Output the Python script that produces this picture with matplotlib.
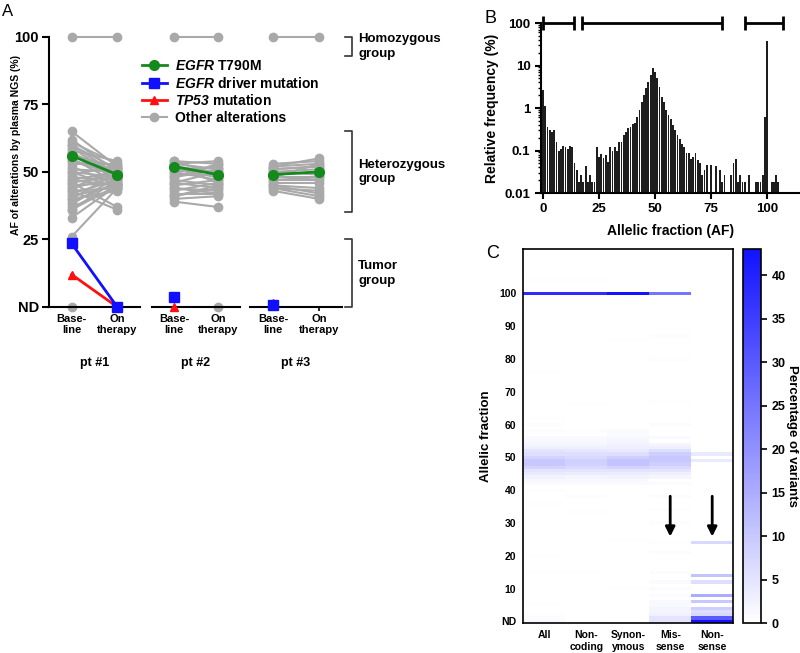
import numpy as np
import matplotlib
matplotlib.use('Agg')
import matplotlib.pyplot as plt
from matplotlib.colors import LinearSegmentedColormap

plt.rcParams['font.family'] = ['Liberation Sans', 'DejaVu Sans']
plt.rcParams['font.weight'] = 'bold'
plt.rcParams['axes.labelweight'] = 'bold'
plt.rcParams['mathtext.fontset'] = 'custom'
plt.rcParams['mathtext.it'] = 'Liberation Sans:italic:bold'
plt.rcParams['mathtext.rm'] = 'Liberation Sans:italic:bold'

# ---- panel A data ----
patients = ['pt #1', 'pt #2', 'pt #3']
timepoints = ['Base-\nline', 'On\ntherapy']

pt1_base = [65, 62, 61, 60, 60, 59, 58, 57, 57, 56, 55, 54, 54, 53, 52, 51, 50, 50, 49, 48,
            47, 47, 46, 45, 44, 44, 43, 42, 41, 40, 40, 39, 38, 37, 36, 36, 33, 26, 46, 43]
pt1_on = [52, 50, 53, 49, 51, 48, 54, 50, 47, 52, 46, 51, 49, 53, 45, 50, 48, 44, 52, 47,
          50, 45, 49, 46, 51, 48, 44, 47, 45, 50, 43, 46, 48, 44, 47, 45, 45, 44, 37, 36]
pt2_base = [54, 53, 53, 52, 51, 50, 50, 49, 48, 47, 46, 46, 45, 44, 43, 42, 41, 40, 39, 54, 52, 48, 44, 41]
pt2_on = [53, 51, 54, 50, 48, 52, 47, 49, 53, 45, 50, 44, 47, 43, 46, 42, 44, 41, 37, 49, 46, 51, 42, 45]
pt3_base = [53, 52, 52, 51, 50, 50, 49, 48, 48, 47, 46, 45, 45, 44, 43, 51, 47, 44]
pt3_on = [54, 53, 55, 52, 51, 49, 50, 53, 48, 47, 46, 44, 42, 43, 40, 52, 48, 41]

t790m_base = [56, 52, 49]
t790m_on = [49, 49, 50]
driver_base = [23.5, 3.5, 0.8]
driver_on = [0, np.nan, np.nan]
tp53_base = [12, 0, 1.5]
tp53_on = [0, np.nan, np.nan]
homo_base = [100, 100, 100]
homo_on = [100, 100, 100]
nd_other_base = [0, np.nan, np.nan]
nd_other_on = [np.nan, 0, np.nan]

groups = ['Homozygous\ngroup', 'Heterozygous\ngroup', 'Tumor\ngroup']
group_lo = [93, 35, 0]
group_hi = [100, 65, 25]

# ---- panel B data ----
af_bins = np.arange(0, 106)
rel_freq = [2.7, 1.1, 0.36, 0.3, 0.28, 0.31, 0.16, 0.1, 0.11, 0.13,
            0.12, 0.11, 0.13, 0.12, 0.05, 0.035, 0.018, 0.027, 0.018, 0.043,
            0.018, 0.027, 0.018, 0.018, 0.12, 0.07, 0.085, 0.065, 0.08, 0.055,
            0.12, 0.1, 0.12, 0.1, 0.16, 0.16, 0.23, 0.28, 0.33, 0.36,
            0.41, 0.45, 0.6, 0.88, 1.4, 2.0, 2.9, 4.1, 6.0, 8.7,
            7.2, 5.0, 3.1, 1.8, 1.4, 0.88, 0.67, 0.55, 0.39, 0.3,
            0.23, 0.19, 0.14, 0.12, 0.087, 0.087, 0.064, 0.07, 0.087, 0.06,
            0.05, 0.027, 0.034, 0.045, 0, 0.045, 0, 0.043, 0, 0.034,
            0.018, 0.027, 0, 0, 0.027, 0.052, 0.063, 0.018, 0.027, 0.018,
            0.018, 0, 0.027, 0, 0, 0.018, 0.018, 0.018, 0.027, 0.6,
            37, 0, 0.018, 0.018, 0.027, 0.018]
range_lo = [0, 17.5, 90]
range_hi = [14, 80, 107]

# ---- panel C data (AF row -> % of variants, row 0 = ND) ----
var_types = ['All', 'Non-\ncoding', 'Synon-\nymous', 'Mis-\nsense', 'Non-\nsense']
all_af = [0, 1, 2, 5, 15, 20, 36, 40, 42, 43, 44, 45, 46, 47, 48, 49, 50, 51, 52, 53,
          54, 55, 56, 58, 60, 62, 76, 96, 100, 104]
all_pct = [1.5, 0.6, 0.4, 0.3, 0.2, 0.3, 0.3, 0.5, 1, 1.5, 2.5, 4, 5, 8, 10, 10, 8, 6, 5, 3,
           2, 1.2, 0.8, 0.5, 0.5, 0.3, 0.3, 0.3, 38, 0.3]
noncoding_af = [0, 15, 33, 38, 42, 43, 44, 45, 46, 47, 48, 49, 50, 51, 52, 53, 54, 55, 56, 58,
                66, 100, 104]
noncoding_pct = [0.4, 0.3, 0.3, 0.4, 0.8, 1.2, 2, 3.5, 5, 7, 8.5, 8.5, 7, 6, 4.5, 3, 2, 1.2, 0.8, 0.5,
                 0.3, 38, 0.3]
synonymous_af = [0, 10, 25, 42, 43, 44, 45, 46, 47, 48, 49, 50, 51, 52, 53, 54, 55, 56, 57, 58,
                 86, 100]
synonymous_pct = [0.3, 0.3, 0.3, 1, 1.5, 2.5, 3.5, 5, 8, 11, 11, 9, 6, 4, 3, 2.5, 2, 1.5, 1, 0.8,
                  0.3, 43]
missense_af = [0, 1, 2, 3, 4, 5, 6, 8, 10, 12, 15, 21, 24, 30, 34, 38, 42, 44, 45, 46, 47,
               48, 49, 50, 51, 52, 53, 54, 56, 60, 67, 80, 87, 100]
missense_pct = [5, 5, 2.5, 2, 2, 1.5, 1.2, 1, 0.8, 0.8, 0.6, 0.6, 0.5, 0.5, 0.5, 0.6, 1, 2, 3, 5, 7,
                9, 10, 10, 9, 6, 3, 2, 1, 0.6, 0.5, 0.4, 0.4, 25]
nonsense_af = [0, 1, 2, 3, 4, 6, 8, 12, 14, 24, 49, 51]
nonsense_pct = [43, 30, 7, 6, 9, 10, 15, 6, 11, 7, 4, 4]

grey = '#a9a9a9'


def draw_patient(ax, i, grey_b, grey_o):
    for b, o in zip(grey_b, grey_o):
        ax.plot([0, 1], [b, o], color=grey, lw=1.5, marker='o', ms=6, clip_on=False, zorder=2)
    ax.plot([0, 1], [homo_base[i], homo_on[i]], color=grey, lw=1.5, marker='o', ms=6, clip_on=False, zorder=2)
    h_other = ax.plot([0, 1], [nd_other_base[i], nd_other_on[i]], color=grey, lw=1.5, marker='o', ms=6,
                      clip_on=False, zorder=2)[0]
    h_t790 = ax.plot([0, 1], [t790m_base[i], t790m_on[i]], color='#14891c', lw=2, marker='o', ms=7,
                     clip_on=False, zorder=4)[0]
    h_tp53 = ax.plot([0, 1], [tp53_base[i], tp53_on[i]], color='#ff1010', lw=2, marker='^', ms=6,
                     clip_on=False, zorder=4)[0]
    h_drv = ax.plot([0, 1], [driver_base[i], driver_on[i]], color='#1010ff', lw=2, marker='s', ms=7,
                    clip_on=False, zorder=5)[0]
    ax.set_xlim(-0.5, 1.5)
    ax.set_ylim(0, 100)
    ax.set_xticks([0, 1])
    ax.set_xticklabels(timepoints, fontsize=8, linespacing=1.1)
    ax.set_xlabel(patients[i], fontsize=9, labelpad=16)
    for s in ['top', 'right']:
        ax.spines[s].set_visible(False)
    ax.spines['bottom'].set_linewidth(1.5)
    ax.spines['left'].set_linewidth(1.5)
    ax.tick_params(axis='x', length=3, width=1.2, pad=2)
    return h_t790, h_drv, h_tp53, h_other


fig = plt.figure(figsize=(8, 6.53), dpi=100)

# ---- A ----
a_bottom, a_height = 0.530, 0.4135
ax1 = fig.add_axes([0.061, a_bottom, 0.114, a_height])
ax2 = fig.add_axes([0.190, a_bottom, 0.110, a_height])
ax3 = fig.add_axes([0.3125, a_bottom, 0.115, a_height])
handles = draw_patient(ax1, 0, pt1_base, pt1_on)
draw_patient(ax2, 1, pt2_base, pt2_on)
draw_patient(ax3, 2, pt3_base, pt3_on)
ax1.set_yticks([0, 25, 50, 75, 100])
ax1.set_yticklabels(['ND', '25', '50', '75', '100'], fontsize=10.5)
ax1.tick_params(axis='y', length=5, width=1.5, pad=2)
ax1.set_ylabel('AF of alterations by plasma NGS (%)', fontsize=7.5)
ax1.yaxis.set_label_coords(-0.30, 0.6)
for ax in (ax2, ax3):
    ax.spines['left'].set_visible(False)
    ax.set_yticks([])

for lo, hi, lab in zip(group_lo, group_hi, groups):
    ax3.plot([1.565, 1.72, 1.72, 1.565], [hi, hi, lo, lo], color='#333333', lw=1.2, clip_on=False)
    ax3.text(1.85, (lo + hi) / 2, lab, fontsize=9.5, ha='left', va='center', linespacing=1.3)

labels = [r'$\mathit{EGFR}$ T790M', r'$\mathit{EGFR}$ driver mutation',
          r'$\mathit{TP53}$ mutation', 'Other alterations']
fig.legend(handles, labels, loc='upper left', bbox_to_anchor=(0.177, 0.91), frameon=False,
           fontsize=10, handlelength=1.8, labelspacing=0.2, handletextpad=0.6, borderpad=0,
           borderaxespad=0)

fig.text(0.003, 0.994, 'A', fontsize=12, fontweight='normal', va='top')

# ---- B ----
ax_b = fig.add_axes([0.676, 0.7044, 0.325, 0.2603])
ax_b.bar(af_bins, rel_freq, width=0.8, color='#1e1e1e', log=True)
ax_b.set_yscale('log')
ax_b.set_ylim(0.01, 100)
ax_b.set_xlim(-1, 115)
ax_b.set_xticks([0, 25, 50, 75, 100])
ax_b.set_yticks([0.01, 0.1, 1, 10, 100])
ax_b.set_yticklabels(['0.01', '0.1', '1', '10', '100'])
ax_b.tick_params(labelsize=9.5, width=1.5, length=4)
ax_b.tick_params(which='minor', width=1, length=2.5)
for s in ['top', 'right']:
    ax_b.spines[s].set_visible(False)
ax_b.spines['bottom'].set_linewidth(1.5)
ax_b.spines['left'].set_linewidth(1.5)
ax_b.set_xlabel('Allelic fraction (AF)', fontsize=10, labelpad=6)
ax_b.set_ylabel('Relative frequency (%)', fontsize=10, labelpad=4)
centers = [(lo + hi) / 2 for lo, hi in zip(range_lo, range_hi)]
halfw = [(hi - lo) / 2 for lo, hi in zip(range_lo, range_hi)]
eb = ax_b.errorbar(centers, [100] * 3, xerr=halfw, fmt='none', ecolor='black', elinewidth=2,
                   capsize=5, capthick=2)
for art in eb.get_children():
    art.set_clip_on(False)
fig.text(0.606, 0.985, 'B', fontsize=13, fontweight='normal', va='top')

# ---- C ----
n_rows = 114
matrix = np.zeros((n_rows, len(var_types)))
for j, (afs, pcts) in enumerate([(all_af, all_pct), (noncoding_af, noncoding_pct),
                                 (synonymous_af, synonymous_pct), (missense_af, missense_pct),
                                 (nonsense_af, nonsense_pct)]):
    matrix[afs, j] = pcts

cmap = LinearSegmentedColormap.from_list('wb', ['#ffffff', '#1212ff'])
ax_c = fig.add_axes([0.654, 0.0459, 0.2625, 0.5727])
mesh = ax_c.pcolormesh(np.arange(len(var_types) + 1), np.arange(n_rows + 1), matrix,
                       cmap=cmap, vmin=0, vmax=43)
ax_c.set_xlim(0, len(var_types))
ax_c.set_ylim(0, n_rows)
ax_c.set_xticks(np.arange(len(var_types)) + 0.5)
ax_c.set_xticklabels(var_types, fontsize=7.5, linespacing=1.2)
ax_c.set_yticks(np.arange(0, 101, 10) + 0.5)
ax_c.set_yticklabels(['ND'] + [str(v) for v in range(10, 101, 10)], fontsize=7.5)
ax_c.tick_params(length=0, pad=5)
for s in ax_c.spines.values():
    s.set_linewidth(1.2)
ax_c.set_ylabel('Allelic fraction', fontsize=9.5, labelpad=5)
for xc in [3.5, 4.5]:
    ax_c.annotate('', xy=(xc, 25.5), xytext=(xc, 39.5),
                  arrowprops=dict(arrowstyle='-|>', color='black', lw=2, mutation_scale=14))

cax = fig.add_axes([0.929, 0.0459, 0.0225, 0.5727])
cb = fig.colorbar(mesh, cax=cax, ticks=range(0, 41, 5))
cb.outline.set_linewidth(1.2)
cax.tick_params(labelsize=9, width=1.2, length=4)
cb.set_label('Percentage of variants', rotation=270, fontsize=9.5, labelpad=9)
fig.text(0.6075, 0.625, 'C', fontsize=13, fontweight='normal', va='top')

fig.savefig('out.png', dpi=100)
